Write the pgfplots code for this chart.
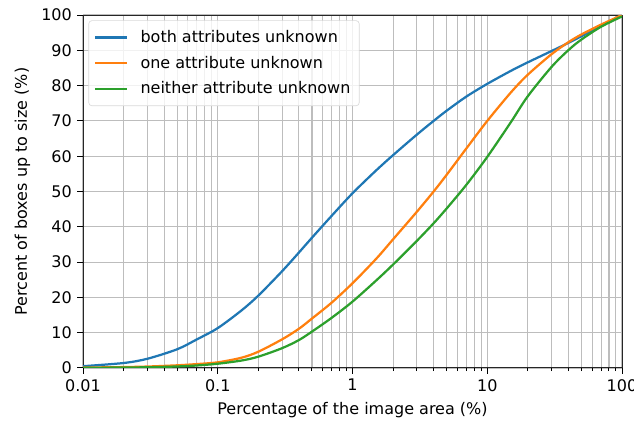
\documentclass[border=0pt]{standalone}
\usepackage{fontspec}
\setmainfont{DejaVu Sans}
\usepackage{pgfplots}
\pgfplotsset{compat=1.18}
\definecolor{tabblue}{HTML}{1F77B4}
\definecolor{taborange}{HTML}{FF7F0E}
\definecolor{tabgreen}{HTML}{2CA02C}
\definecolor{gridgray}{HTML}{BDBDBD}
\begin{document}
\begin{tikzpicture}
\begin{axis}[
  scale only axis,
  width=336.9bp, height=220.6bp,
  xmode=log,
  xmin=0.01, xmax=100, ymin=0, ymax=100,
  xtick={0.01,0.1,1,10,100},
  xticklabels={0.01,0.1,1,10,100},
  ytick={0,10,...,100},
  grid=both,
  major grid style={gridgray, line width=0.7bp},
  minor grid style={gridgray, line width=0.7bp},
  tick align=outside,
  major tick length=3.5bp,
  minor tick length=2bp,
  tick style={black, line width=0.6bp},
  axis line style={black!85, line width=0.6bp},
  xtick pos=bottom, ytick pos=left,
  /pgf/number format/assume math mode=true,
  ticklabel style={font=\fontsize{10bp}{12bp}\selectfont},
  label style={font=\fontsize{10bp}{12bp}\selectfont},
  xlabel={Percentage of the image area (\%)},
  ylabel={Percent of boxes up to size (\%)},
  legend cell align=left,
  legend style={at={(0.01,0.985)}, anchor=north west, draw=black!15, rounded corners=2bp,
    fill=white, fill opacity=0.8, text opacity=1,
    font=\fontsize{10bp}{12bp}\selectfont, row sep=3bp,
    inner xsep=3.5bp, inner ysep=4bp},
  legend image code/.code={\draw[#1] (0bp,0bp) -- (20bp,0bp); \path (25.5bp,0bp);},
  every axis plot/.append style={line width=1.4bp, smooth, tension=0.5},
]
\addplot[tabblue] coordinates {
(0.01,0.5) (0.02,1.4) (0.03,2.6) (0.05,5.3) (0.07,8.1) (0.1,11.3)
(0.15,16.3) (0.2,20.5) (0.3,27.4) (0.4,32.7) (0.5,36.9) (0.7,43.1) (1,49.5) (1.5,56.0) (2,60.3)
(3,66.1) (4,70.0) (5,72.9) (7,76.9) (10,80.5) (15,84.2) (20,86.6) (30,89.8) (40,92.1) (50,94.0)
(70,96.9) (100,100)};
\addlegendentry{both attributes unknown}
\addplot[taborange] coordinates {
(0.01,0.1) (0.02,0.25) (0.03,0.4) (0.05,0.75) (0.07,1.1) (0.1,1.6) (0.15,2.9) (0.2,4.6)
(0.3,8.1) (0.4,11.1) (0.5,14) (0.7,18.5) (1,24) (1.5,30.95) (2,36.45) (3,44.24)
(4,50) (5,54.75) (7,62.2) (10,70) (15,78.1) (20,83.1) (30,88.9) (40,92.3)
(50,94.5) (70,97.3) (100,100)};
\addlegendentry{one attribute unknown}
\addplot[tabgreen] coordinates {
(0.01,0.05) (0.02,0.12) (0.03,0.2) (0.05,0.42) (0.07,0.7) (0.1,1.2) (0.15,2.1) (0.2,3.2)
(0.3,5.6) (0.4,7.9) (0.5,10.3) (0.7,14.2) (1,18.8) (1.5,24.8) (2,29.3) (3,36.0) (4,41.0)
(5,45.2) (7,51.9) (10,59.8) (15,69.7) (20,77) (30,85.3) (40,90.05) (50,93.06) (70,96.7) (100,99.6)};
\addlegendentry{neither attribute unknown}
\coordinate (SW) at (rel axis cs:0,0);
\coordinate (NE) at (rel axis cs:1,1);
\end{axis}
\pgfresetboundingbox
\path ([shift={(-51.9bp,-33.1bp)}]SW) rectangle ([shift={(7.5bp,9.4bp)}]NE);
\end{tikzpicture}
\end{document}
